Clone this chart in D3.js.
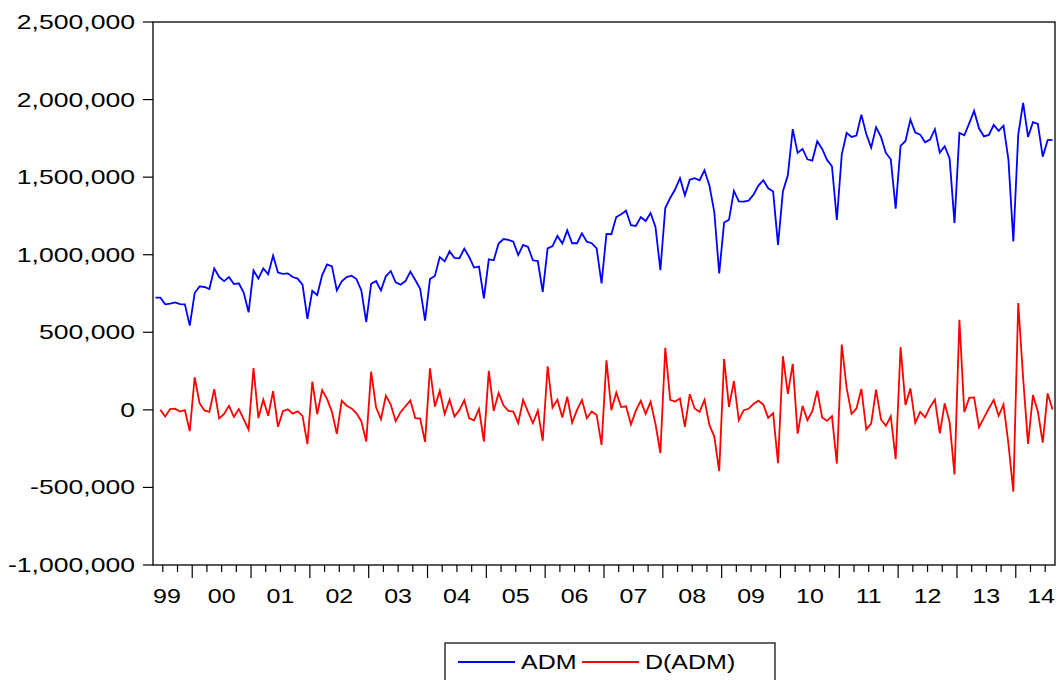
<!DOCTYPE html>
<html>
<head>
<meta charset="utf-8">
<script src="https://d3js.org/d3.v7.min.js"></script>
<style>
  body { margin: 0; background: #fff; }
  svg text { font-family: "Liberation Sans", Arial, sans-serif; fill: #000; }
</style>
</head>
<body>
<svg id="chart" width="1064" height="680"></svg>
<script>
// ADM, тысячи, помесячно с 1999M05 по 2014M08
var adm = [
  723, 723, 680, 685, 693, 682, 680, 543,
  753, 796, 792, 779, 912, 856, 830, 856, 811, 816, 756, 629,
  899, 846, 912, 874, 994, 885, 876, 880, 856, 846, 807, 586,
  768, 740, 867, 938, 925, 770, 829, 856, 865, 843, 770, 566,
  813, 830, 770, 861, 895, 822, 807, 830, 891, 837, 781, 575,
  843, 863, 985, 957, 1022, 979, 977, 1039, 985, 917, 923, 719,
  970, 964, 1072, 1101, 1095, 1084, 998, 1063, 1050, 964, 959, 760,
  1041, 1056, 1121, 1072, 1157, 1074, 1074, 1138, 1084, 1074, 1041, 815,
  1134, 1132, 1243, 1261, 1284, 1190, 1185, 1243, 1217, 1269, 1179, 901,
  1301, 1366, 1420, 1493, 1383, 1484, 1493, 1480, 1544, 1447, 1275, 880,
  1207, 1226, 1411, 1344, 1342, 1349, 1387, 1446, 1480, 1428, 1407, 1063,
  1409, 1512, 1809, 1656, 1682, 1615, 1607, 1731, 1682, 1611, 1570, 1224,
  1645, 1785, 1759, 1768, 1903, 1778, 1690, 1821, 1759, 1656, 1615, 1297,
  1701, 1733, 1871, 1787, 1774, 1725, 1742, 1809, 1658, 1699, 1620, 1204,
  1785, 1770, 1847, 1927, 1815, 1763, 1772, 1836, 1798, 1832, 1613, 1086,
  1774, 1978, 1759, 1854, 1843, 1632, 1738, 1740
];

// D(ADM), тысячи, с 1999M06
var d_adm = [
  0, -43, 5, 8, -11, -2, -137,
  210, 43, -4, -13, 133, -56, -26, 26, -45, 5, -60, -127,
  270, -53, 66, -38, 120, -109, -9, 4, -24, -10, -39, -221,
  182, -28, 127, 71, -13, -155, 59, 27, 9, -22, -73, -204,
  247, 17, -60, 91, 34, -73, -15, 23, 61, -54, -56, -206,
  268, 20, 122, -28, 65, -43, -2, 62, -54, -68, 6, -204,
  251, -6, 108, 29, -6, -11, -86, 65, -13, -86, -5, -199,
  281, 15, 65, -49, 85, -83, 0, 64, -54, -10, -33, -226,
  319, -2, 111, 18, 23, -94, -5, 58, -26, 52, -90, -278,
  400, 65, 54, 73, -110, 101, 9, -13, 64, -97, -172, -395,
  327, 19, 185, -67, -2, 7, 38, 59, 34, -52, -21, -344,
  346, 103, 297, -153, 26, -67, -8, 124, -49, -71, -41, -346,
  421, 140, -26, 9, 135, -125, -88, 131, -62, -103, -41, -318,
  404, 32, 138, -84, -13, -49, 17, 67, -151, 41, -79, -416,
  581, -15, 77, 80, -112, -52, 9, 64, -38, 34, -219, -527,
  688, 204, -219, 95, -11, -211, 106, 2
];

var years = [1999, 2000, 2001, 2002, 2003, 2004, 2005, 2006, 2007,
             2008, 2009, 2010, 2011, 2012, 2013, 2014];
var year_labels = ['99', '00', '01', '02', '03', '04', '05', '06', '07',
                   '08', '09', '10', '11', '12', '13', '14'];
var y_ticks = [-1000000, -500000, 0, 500000, 1000000, 1500000, 2000000, 2500000];
var series_names = ['ADM', 'D(ADM)'];
var series_colors = ['#0000ff', '#ff0000'];

(function () {
  'use strict';

  var svg = d3.select('#chart'),
      m_left = 153, m_right = 1055, m_top = 22, m_bottom = 565, // рамка графика
      font_size = 20, stretch = 1.25, y_stretch = 1.33; // шрифт в оригинале растянут по горизонтали

  // индекс месяца: 0 = май 1999
  var x = d3.scaleLinear().domain([-0.5, adm.length - 0.5]).range([m_left, m_right]);
  var y = d3.scaleLinear().domain([-1000000, 2500000]).range([m_bottom, m_top]);
  var fmt = function(v) { return d3.format(',')(v).replace('\u2212', '-'); };

  // индекс января для года
  function jan(year) { return (year - 1999) * 12 - 4; }

  // рамка
  svg.append('rect')
    .attr('x', m_left).attr('y', m_top)
    .attr('width', m_right - m_left).attr('height', m_bottom - m_top)
    .attr('fill', 'none').attr('stroke', '#000').attr('stroke-width', 1.3);

  // ось Y
  var y_axis = svg.append('g').selectAll('g').data(y_ticks).enter().append('g');
  y_axis.append('line')
    .attr('x1', m_left - 10).attr('x2', m_left)
    .attr('y1', function(d) { return y(d); }).attr('y2', function(d) { return y(d); })
    .attr('stroke', '#000').attr('stroke-width', 1.2);
  y_axis.append('text')
    .attr('transform', function(d) { return 'translate(135,' + (y(d) + 7) + ') scale(' + y_stretch + ',1)'; })
    .attr('text-anchor', 'end')
    .style('font-size', font_size + 'px')
    .text(fmt);

  // ось X: квартальные и годовые засечки (границы месяцев)
  var quarter_ticks = [];
  for (var q = 1.5; q < adm.length - 0.5; q += 3) quarter_ticks.push(q);

  svg.append('g').selectAll('line')
    .data(quarter_ticks)
    .enter()
    .append('line')
    .attr('x1', function(d) { return x(d); }).attr('x2', function(d) { return x(d); })
    .attr('y1', m_bottom)
    .attr('y2', function(d) { return (d + 4.5) % 12 === 0 ? m_bottom + 13 : m_bottom + 7; })
    .attr('stroke', '#000').attr('stroke-width', 1.2);

  // подписи годов, прижатые к краям рамки
  svg.append('g').selectAll('text')
    .data(years)
    .enter()
    .append('text')
    .style('font-size', font_size + 'px')
    .attr('text-anchor', 'middle')
    .text(function(d, i) { return year_labels[i]; })
    .attr('transform', function(d) {
      var cx = x(jan(d) - 0.5 + 6),
          w = this.getComputedTextLength() * stretch;
      cx = Math.max(m_left + w / 2, Math.min(m_right - w / 2, cx));
      return 'translate(' + cx + ',603) scale(' + stretch + ',1)';
    });

  // линии рядов
  var line = d3.line()
    .x(function(d) { return x(d.i); })
    .y(function(d) { return y(d.v * 1000); });

  var series = [
    adm.map(function(v, i) { return { i: i, v: v }; }),
    d_adm.map(function(v, i) { return { i: i + 1, v: v }; })
  ];

  svg.append('g').selectAll('path')
    .data(series)
    .enter()
    .append('path')
    .attr('d', line)
    .attr('fill', 'none')
    .attr('stroke', function(d, i) { return series_colors[i]; })
    .attr('stroke-width', 1.8)
    .attr('stroke-linejoin', 'miter');

  // легенда
  var legend = svg.append('g'),
      legend_x = [458, 582];
  legend.append('rect')
    .attr('x', 445).attr('y', 643).attr('width', 330).attr('height', 50)
    .attr('fill', '#fff').attr('stroke', '#000').attr('stroke-width', 1.2);
  var legend_items = legend.selectAll('g.item')
    .data(series_names)
    .enter()
    .append('g')
    .attr('class', 'item')
    .attr('transform', function(d, i) { return 'translate(' + legend_x[i] + ',662)'; });
  legend_items.append('line')
    .attr('x1', 0).attr('x2', 57).attr('y1', 0).attr('y2', 0)
    .attr('stroke', function(d, i) { return series_colors[i]; })
    .attr('stroke-width', 1.8);
  legend_items.append('text')
    .attr('transform', 'translate(63,7) scale(' + stretch + ',1)')
    .style('font-size', font_size + 'px')
    .text(function(d) { return d; });
})();
</script>
</body>
</html>
